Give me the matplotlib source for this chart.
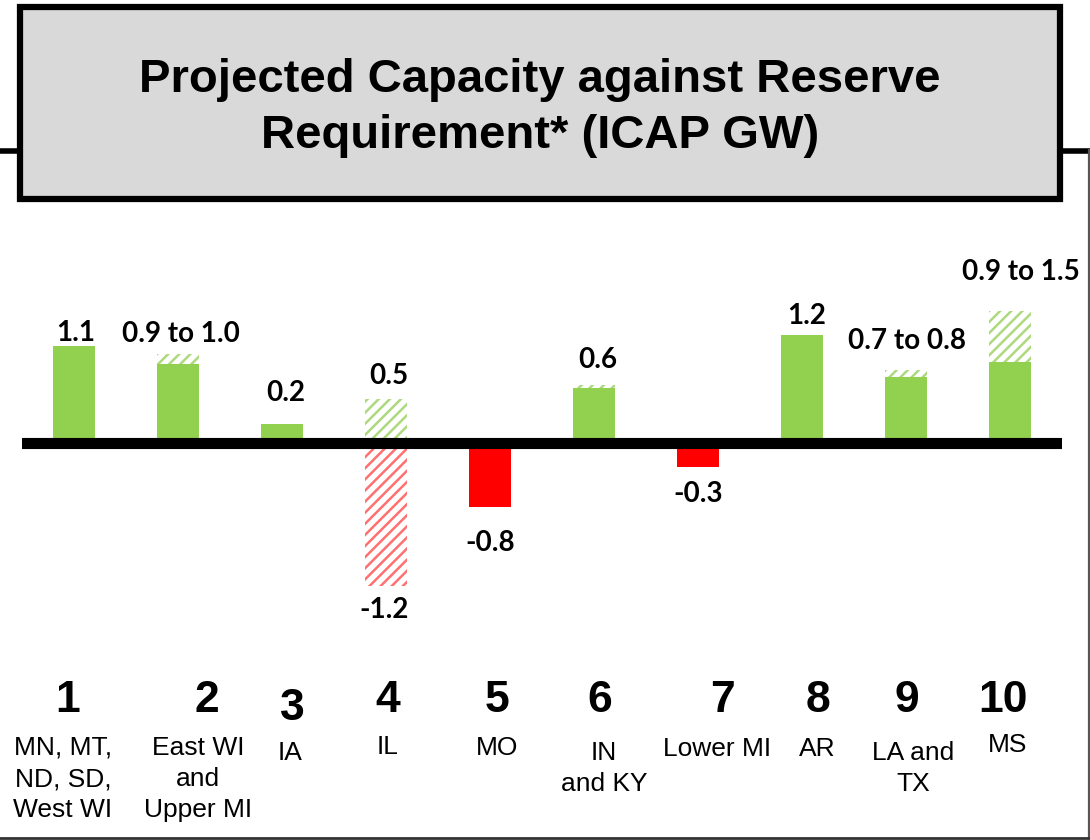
import matplotlib
matplotlib.use("Agg")
import matplotlib.pyplot as plt
from matplotlib.patches import Rectangle

# zones and their states
zone_nums = ['1', '2', '3', '4', '5', '6', '7', '8', '9', '10']
zone_names = ['MN, MT,\nND, SD,\nWest WI', 'East WI\nand\nUpper MI', 'IA', 'IL', 'MO',
              'IN\nand KY', 'Lower MI', 'AR', 'LA and\nTX', 'MS']

# GW
solid = [1.10, 0.90, 0.22, 0.0, -0.73, 0.63, -0.27, 1.23, 0.75, 0.92]
range_top = [1.10, 1.01, 0.22, 0.50, 0.0, 0.66, 0.0, 1.23, 0.83, 1.50]
range_bottom = [0, 0, 0, -1.62, 0, 0, 0, 0, 0, 0]
value_labels = ['1.1', '0.9 to 1.0', '0.2', '0.5', '-1.2', '-0.8', '0.6', '-0.3', '1.2',
                '0.7 to 0.8', '0.9 to 1.5']
label_bar = [0, 1, 2, 3, 3, 4, 5, 6, 7, 8, 9]

GREEN = '#92d050'
RED = '#ff0000'

plt.rcParams['hatch.linewidth'] = 1.8

fig = plt.figure(figsize=(10.9, 8.4), dpi=100)

# overlay in pixel units for the frame, title box and zone captions
ov = fig.add_axes([0, 0, 1, 1], zorder=0)
ov.set_xlim(0, 1090)
ov.set_ylim(840, 0)
ov.axis('off')

ov.plot([0, 18], [150.5, 150.5], color='black', lw=4, solid_capstyle='butt')
ov.plot([1061, 1090], [150.5, 150.5], color='black', lw=4, solid_capstyle='butt')
ov.plot([1088.5, 1088.5], [150, 838], color='#555555', lw=1.6)
ov.plot([0, 1090], [838, 838], color='#333333', lw=2)
ov.add_patch(Rectangle((20, 7), 1040, 192, facecolor='#d9d9d9', edgecolor='black', lw=4.5))
ov.text(540, 80, 'Projected Capacity against Reserve', ha='center', va='center',
        fontsize=34, fontweight='bold', family='Liberation Sans')
ov.text(540, 136, 'Requirement* (ICAP GW)', ha='center', va='center',
        fontsize=34, fontweight='bold', family='Liberation Sans')

num_x = [68, 207, 292, 388, 497, 600, 722, 818, 907, 1003]
num_y = [700, 700, 708, 700, 700, 700, 700, 700, 700, 700]
name_x = [63, 198, 290, 388, 497, 604, 717, 817, 913, 1008]
name_y = [736, 736, 741, 735, 736, 741, 737, 737, 741, 733]
for i in range(len(zone_nums)):
    ov.text(num_x[i], num_y[i], zone_nums[i], ha='center', va='center',
            fontsize=32, fontweight='bold', family='Liberation Sans')
    ov.text(name_x[i], name_y[i], zone_names[i], ha='center', va='top',
            fontsize=19, family='Liberation Sans', linespacing=1.38)

# bar area: 88 px per GW, zero at y=443
ax = fig.add_axes([22 / 1090, (840 - 443 - 2.2 * 88) / 840, 1040 / 1090, 4.4 * 88 / 840], zorder=1)
ax.patch.set_alpha(0)
ax.set_xlim(-0.5, 9.5)
ax.set_ylim(-2.2, 2.2)
ax.axis('off')

x = range(len(zone_nums))
w = 0.40
for i in x:
    if range_top[i] > max(solid[i], 0):
        lo = max(solid[i], 0)
        ax.bar(i, range_top[i] - lo, bottom=lo, width=w, facecolor='white',
               edgecolor='#add97f', hatch='///', lw=0)
    if range_bottom[i] < 0:
        ax.bar(i, range_bottom[i], width=w, facecolor='white',
               edgecolor='#ff7070', hatch='///', lw=0)
    if solid[i] != 0:
        ax.bar(i, solid[i], width=w, color=GREEN if solid[i] > 0 else RED, lw=0)

ax.axhline(0, color='black', lw=8, zorder=5)

# label offsets in pixels (dx, dy from bar end)
lab_dx = [2, 3, 4, 3, -2, 0, 4, 0, 5, 1, 11]
lab_dy = [13, 20, 31, 23, -24, -36, 25, -27, 19, 29, 39]
for j, i in enumerate(label_bar):
    if lab_dy[j] > 0:
        yb = range_top[i]
    else:
        yb = min(solid[i], range_bottom[i])
    ax.annotate(value_labels[j], xy=(i, yb), xytext=(lab_dx[j] * 0.72, lab_dy[j] * 0.72),
                textcoords='offset points', ha='center', va='center',
                fontsize=20, fontweight='bold', family='Lato')

fig.savefig('out.png', dpi=100)
